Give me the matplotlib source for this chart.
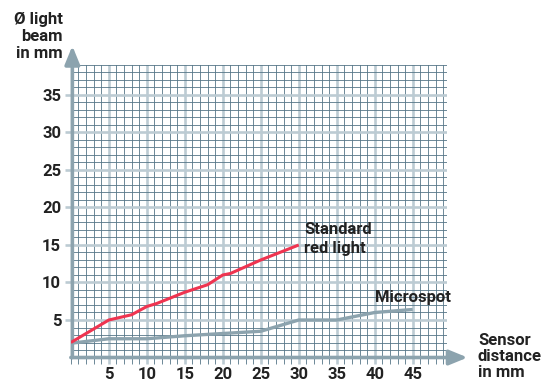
import matplotlib
matplotlib.use("Agg")
from matplotlib import pyplot as plt
from matplotlib.ticker import MultipleLocator

# Standard red light beam diameter
red_x = [0, 5, 8, 10, 11.3, 15, 18, 20, 21, 25, 30]
red_y = [2.0, 5.0, 5.7, 6.8, 7.2, 8.7, 9.7, 11.0, 11.2, 13.0, 15.0]

# Microspot beam diameter
micro_x = [0, 5, 10, 15, 20, 25, 30, 35, 40, 45]
micro_y = [1.9, 2.5, 2.5, 2.9, 3.2, 3.5, 5.0, 5.0, 6.0, 6.4]

x_ticks = [5, 10, 15, 20, 25, 30, 35, 40, 45]
y_ticks = [5, 10, 15, 20, 25, 30, 35]

plt.rcParams["font.family"] = ["Roboto", "DejaVu Sans"]
TEXT = "#222222"
AXIS = "#8ca3ae"
MAJOR = "#bccbd3"
MINOR = "#557587"
RED = "#ef3450"
FS = 12
FW = "bold"

fig = plt.figure(figsize=(5.45, 3.85), dpi=100)
ax = fig.add_axes([0.130, 0.0714, 0.690, 0.760])

ax.set_xlim(0, 49.5)
ax.set_ylim(0, 39)
ax.xaxis.set_major_locator(MultipleLocator(5))
ax.xaxis.set_minor_locator(MultipleLocator(1))
ax.yaxis.set_major_locator(MultipleLocator(5))
ax.yaxis.set_minor_locator(MultipleLocator(1))
ax.grid(which="major", color=MAJOR, lw=1.9, zorder=0)
ax.grid(which="minor", color=MINOR, lw=0.6, zorder=0)
ax.set_axisbelow(True)

ax.set_xticks(x_ticks)
ax.set_xticklabels([str(v) for v in x_ticks])
ax.set_yticks(y_ticks)
ax.set_yticklabels([str(v) for v in y_ticks])
ax.tick_params(axis="both", which="major", labelsize=FS, labelcolor=TEXT,
               color=MAJOR, width=1.9, length=4, pad=3)
ax.tick_params(axis="x", which="minor", color=MINOR, width=0.6, length=4)
ax.tick_params(axis="y", which="minor", length=0)
for lab in ax.get_xticklabels() + ax.get_yticklabels():
    lab.set_fontweight(FW)

for s in ax.spines.values():
    s.set_visible(False)

ax.plot(micro_x, micro_y, color=AXIS, lw=2.4, zorder=3, solid_capstyle="butt")
ax.plot(red_x, red_y, color=RED, lw=2.2, zorder=4, solid_capstyle="butt")

# axes with arrow heads
ax.annotate("", xy=(1.055, 0), xytext=(0, 0), xycoords="axes fraction",
            textcoords="axes fraction", annotation_clip=False,
            arrowprops=dict(arrowstyle="-|>,head_length=1.1,head_width=0.45",
                            color=AXIS, lw=2.6, shrinkA=0, shrinkB=0))
ax.annotate("", xy=(0.004, 1.065), xytext=(0.004, 0), xycoords="axes fraction",
            textcoords="axes fraction", annotation_clip=False,
            arrowprops=dict(arrowstyle="-|>,head_length=1.1,head_width=0.45",
                            color=AXIS, lw=2.6, shrinkA=0, shrinkB=0))

ax.text(30.7, 18.1, "Standard\nred light", fontsize=FS, fontweight=FW,
        color=TEXT, ha="left", va="top", linespacing=1.35)
ax.text(40.0, 7.0, "Microspot", fontsize=FS, fontweight=FW,
        color=TEXT, ha="left", va="bottom")

fig.text(63 / 545, 1 - 12 / 385, "Ø light\nbeam\nin mm", fontsize=FS,
         fontweight=FW, color=TEXT, ha="right", va="top", linespacing=1.15)
fig.text(478 / 545, 1 - 333 / 385, "Sensor\ndistance\nin mm", fontsize=FS,
         fontweight=FW, color=TEXT, ha="left", va="top", linespacing=1.1)

fig.savefig("out.png", dpi=100)
